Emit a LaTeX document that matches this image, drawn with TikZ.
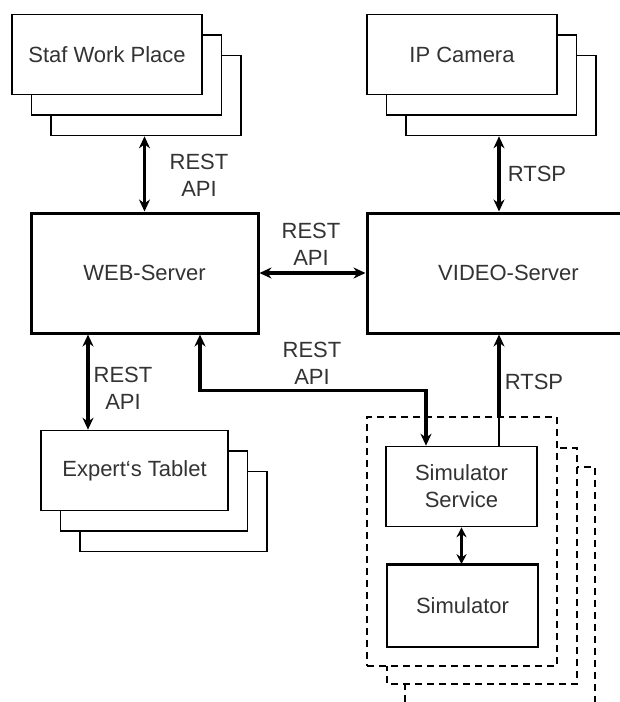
\documentclass[tikz,border=0pt]{standalone}
\usepackage{fontspec}
\setmainfont{Liberation Sans}
\usetikzlibrary{arrows.meta,shadows}
\tikzset{
  stack/.style={draw,line width=1.6pt,fill=white,minimum width=190pt,minimum height=80pt,inner sep=0pt,
    double copy shadow={shadow xshift=19.5pt,shadow yshift=-20.5pt,line width=1.6pt}},
  server/.style={draw,line width=3pt,fill=white,inner sep=0pt,minimum height=120pt},
  unit/.style={draw,line width=1.6pt,fill=white,minimum width=151pt,minimum height=80pt,inner sep=0pt,align=center},
  group/.style={draw,dash pattern=on 7pt off 5pt,line width=1.6pt,fill=white},
  link/.style={line width=3.5pt,{Stealth[length=12pt,width=11pt]}-{Stealth[length=12pt,width=11pt]}},
  tolink/.style={line width=3.5pt,-{Stealth[length=12pt,width=11pt]}},
  lbl/.style={align=center,inner sep=0pt}
}
\begin{document}
\begin{tikzpicture}[x=1pt,y=-1pt,font={\fontsize{22}{27}\selectfont},text=black!80]
\useasboundingbox (0,0) rectangle (620,702);
\clip (0,0) rectangle (620,702);

% clients
\node[stack] (staf) at (107,54.5) {Staf Work Place};
\node[stack] (camera) at (462,54.5) {IP Camera};
\node[stack,minimum width=187pt] (tablet) at (134.5,470.5) {Expert{\symbol{96}}s Tablet};

% servers
\node[server,minimum width=227pt] (web) at (144.5,273) {WEB-Server};
\node[server,minimum width=283pt] (video) at (508.5,273) {VIDEO-Server};

% simulator group
\path[group] (405,467) rectangle (595,730);
\path[group] (387,448) rectangle (577,684);
\node[group,minimum width=190pt,minimum height=249pt,inner sep=0pt] (simgroup) at (462,541.5) {};
\node[unit] (service) at (461.5,486.5) {Simulator\\Service};
\node[unit,minimum height=82pt,line width=1.6pt] (simulator) at (462.5,606) {Simulator};
\draw[line width=3pt] (simulator.north west) -- (simulator.north east);

% connectors
\coordinate (stafend) at ([yshift=-41pt]staf.south);
\coordinate (camend) at ([xshift=37pt,yshift=-41pt]camera.south);
\coordinate (rtspbase) at ([xshift=37.5pt]service.north);
\coordinate (apibase) at ([xshift=-35.5pt]service.north);
\coordinate (tabletend) at ([xshift=-56.5pt]web.south);

\draw[link] (stafend -| web.north) -- (web.north);
\draw[link] (camend) -- (camend |- video.north);
\draw[link] (web.east) -- (video.west);
\draw[link] (tabletend) -- (tabletend |- tablet.north);
\draw[link] ([xshift=55.5pt]web.south) |- ([yshift=55pt]apibase) -- (apibase);
\draw[line width=1.6pt] (rtspbase) -- (rtspbase |- simgroup.north);
\draw[tolink] (rtspbase |- simgroup.north) -- (rtspbase |- video.south);
\draw[line width=3pt,{Stealth[length=10pt,width=10pt]}-{Stealth[length=10pt,width=10pt]}] (service.south) -- (service.south |- simulator.north);

% labels
\node[lbl] (apistaf) at (199,175) {REST\\API};
\node[lbl] (rtspcam) at (537,174) {RTSP};
\node[lbl] (apiweb) at (311,244) {REST\\API};
\node[lbl] (apisim) at (312,363) {REST\\API};
\node[lbl] (apitablet) at (123,388) {REST\\API};
\node[lbl] (rtspsim) at (534,382) {RTSP};
\end{tikzpicture}
\end{document}
